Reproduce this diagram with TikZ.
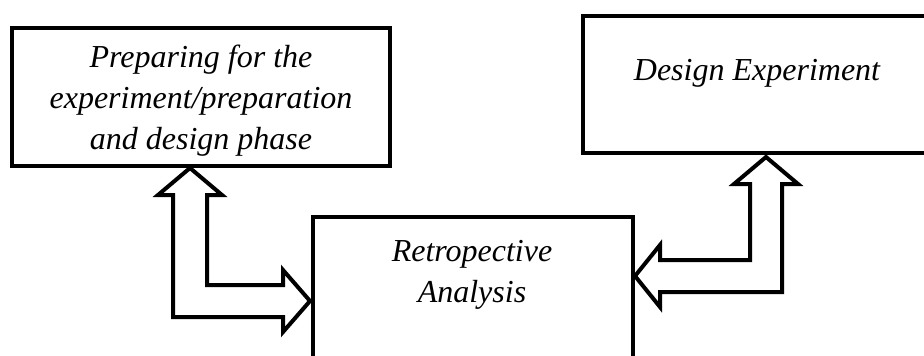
\documentclass[tikz,border=0pt]{standalone}
\usepackage{fontspec}
\setmainfont{Liberation Serif}

\begin{document}
\begin{tikzpicture}[x=1pt, y=-1pt,
  box/.style={draw, line width=4.5pt, rectangle, inner sep=0pt},
  lbl/.style={font=\fontsize{32}{41}\selectfont\itshape, align=center, inner sep=0pt},
  blockarrow/.style={draw, line width=4pt, fill=white}]

\useasboundingbox (0,0) rectangle (924,356);
\clip (0,0) rectangle (924,356);

% Boites
\node[box, minimum width=378pt, minimum height=138pt] (prep) at (201,97) {};
\node[box, minimum width=360pt, minimum height=137pt] (design) at (763,84.5) {};
\node[box, minimum width=320pt, minimum height=170pt] (retro) at (473,302) {};

% Textes
\node[lbl] (prepTxt) at (201,101) {Preparing for the\\experiment/preparation\\and design phase};
\node[lbl] (designTxt) at (757,73) {Design Experiment};
\node[lbl] (retroTxt) at (472,275) {Retropective\\Analysis};

% Fleches
\draw[blockarrow] (190,168) -- (222,195) -- (207,195) -- (207,285) -- (283,285)
  -- (283,270) -- (310,301) -- (283,332) -- (283,317) -- (173,317)
  -- (173,195) -- (158,195) -- cycle;
\draw[blockarrow] (766,157) -- (798,184) -- (782,184) -- (782,292) -- (660,292)
  -- (660,307) -- (635,276) -- (660,245) -- (660,260) -- (750,260)
  -- (750,184) -- (734,184) -- cycle;

\end{tikzpicture}
\end{document}
